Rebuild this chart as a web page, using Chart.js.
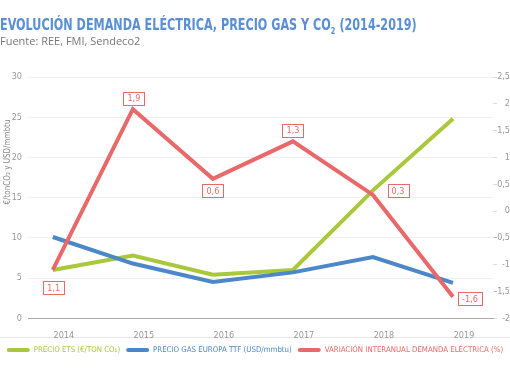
<!DOCTYPE html>
<html lang="es">
<head>
  <meta charset="UTF-8">
  <title>chart</title>
  <script src="https://cdn.jsdelivr.net/npm/chart.js"></script>
  <style>
    html,body{margin:0;padding:0;background:#fff;}
    .wrap{position:relative;width:510px;height:382px;overflow:hidden;}
    .title{position:absolute;left:0;top:16px;font:bold 15px "Liberation Sans Narrow","DejaVu Sans Condensed",sans-serif;color:#5b8fd3;white-space:nowrap;transform:scaleX(0.83);transform-origin:0 0;}
    .title sub{font-size:9px;}
    .sub{position:absolute;left:0;top:33px;font:11px "Open Sans",sans-serif;color:#777;white-space:nowrap;}
    .sep{position:absolute;left:0;top:337px;width:510px;height:1px;background:#e6e6e6;}
    canvas{position:absolute;left:0;top:0;}
  </style>
</head>
<body>
  <div class="wrap">
    <div class="sep"></div>
    <canvas id="myChart" width="510" height="382"></canvas>
    <div class="title">EVOLUCIÓN DEMANDA ELÉCTRICA, PRECIO GAS Y CO<sub>2</sub> (2014-2019)</div>
    <div class="sub">Fuente: REE, FMI, Sendeco2</div>
  </div>
  <script>
    // data
    const years = [2014, 2015, 2016, 2017, 2018, 2019];
    const precioEts = [6.0, 7.8, 5.4, 6.0, 15.9, 24.8];
    const precioGas = [10.1, 6.8, 4.5, 5.7, 7.6, 4.4];
    const demanda = [-1.1, 1.9, 0.6, 1.3, 0.3, -1.6];
    const demandaLabels = ['1,1', '1,9', '0,6', '1,3', '0,3', '-1,6'];
    const leftTicks = [0, 5, 10, 15, 20, 25, 30];
    const rightTicks = [-2, -1.5, -1, -0.5, 0, 0.5, 1, 1.5, 2, 2.5];

    const green = '#a9c83c', blue = '#4b87c9', red = '#e9686a';
    const font = '"DejaVu Sans Condensed","Liberation Sans Narrow",sans-serif';
    const pts = arr => arr.map((v, i) => ({x: years[i], y: v}));

    //boxed labels on the red line
    const boxLabels = {
      id: 'boxLabels',
      afterDatasetsDraw(chart, args, options){
        const {ctx} = chart;
        const meta = chart.getDatasetMeta(2);
        ctx.save();
        ctx.font = '9px ' + font;
        ctx.textAlign = 'center';
        ctx.textBaseline = 'middle';
        meta.data.forEach((p, i) => {
          const t = demandaLabels[i];
          const [dx, dy] = options.offsets[i];
          const w = ctx.measureText(t).width + 8, h = 13;
          const cx = p.x + dx, cy = p.y + dy;
          ctx.fillStyle = '#fff';
          ctx.fillRect(cx - w / 2, cy - h / 2, w, h);
          ctx.strokeStyle = red;
          ctx.lineWidth = 1;
          ctx.strokeRect(Math.round(cx - w / 2) + 0.5, Math.round(cy - h / 2) + 0.5, Math.round(w), h);
          ctx.fillStyle = red;
          ctx.fillText(t, cx, cy + 0.5);
        });
        ctx.restore();
      }
    };

    //rotated y title
    const yTitle = {
      id: 'yTitle',
      afterDraw(chart){
        const {ctx} = chart;
        ctx.save();
        ctx.translate(8, 162);
        ctx.rotate(-Math.PI / 2);
        ctx.fillStyle = '#888';
        ctx.textAlign = 'center';
        ctx.textBaseline = 'middle';
        ctx.font = '8px ' + font;
        ctx.fillText('€/tonCO₂ y USD/mmbtu', 0, 0);
        ctx.restore();
      }
    };

    const config = {
      type: 'line',
      data: {
        datasets: [
          {label: 'PRECIO ETS (€/TON CO₂)', data: pts(precioEts), borderColor: green, yAxisID: 'y', order: 2},
          {label: 'PRECIO GAS EUROPA TTF (USD/mmbtu)', data: pts(precioGas), borderColor: blue, yAxisID: 'y', order: 1},
          {label: 'VARIACIÓN INTERANUAL DEMANDA ELÉCTRICA (%)', data: pts(demanda), borderColor: red, yAxisID: 'y2', order: 0}
        ]
      },
      options: {
        responsive: false,
        animation: false,
        elements: {
          line: {borderWidth: 4, tension: 0},
          point: {radius: 0}
        },
        layout: {padding: {top: 77, bottom: 18, left: 0, right: 0}},
        scales: {
          x: {
            type: 'linear', min: 2013.69, max: 2019.5,
            afterBuildTicks: axis => { axis.ticks = years.map(v => ({value: v})); },
            afterFit: axis => { axis.height = 22; },
            grid: {display: false},
            border: {display: true, color: '#aaa'},
            ticks: {color: '#999', font: {family: font, size: 9}, labelOffset: 11, padding: 4, callback: v => String(v)}
          },
          y: {
            position: 'left', min: 0, max: 30,
            afterBuildTicks: axis => { axis.ticks = leftTicks.map(v => ({value: v})); },
            afterFit: axis => { axis.width = 28; },
            grid: {color: '#f0f0f0', drawTicks: false},
            border: {display: false},
            ticks: {color: '#999', font: {family: font, size: 9}, padding: 6}
          },
          y2: {
            position: 'right', min: -2, max: 2.5,
            afterBuildTicks: axis => { axis.ticks = rightTicks.map(v => ({value: v})); },
            afterFit: axis => { axis.width = 17; },
            grid: {drawOnChartArea: false, tickLength: 4, color: '#ddd'},
            border: {display: false},
            ticks: {color: '#999', font: {family: font, size: 9}, padding: 2, crossAlign: 'far',
              callback: v => String(v).replace('.', ',')}
          }
        },
        plugins: {
          tooltip: {enabled: false},
          legend: {
            position: 'bottom',
            labels: {
              boxWidth: 23, boxHeight: 4, padding: 6, useBorderRadius: true, borderRadius: 2,
              font: {family: font, size: 7.8},
              generateLabels: chart => chart.data.datasets.map((ds, i) => ({
                text: ds.label, fillStyle: ds.borderColor, strokeStyle: ds.borderColor,
                lineWidth: 0, fontColor: ds.borderColor, borderRadius: 2, datasetIndex: i, hidden: false
              }))
            }
          },
          boxLabels: {offsets: [[1, 18], [1, -11], [0, 12], [0, -11], [25, -4], [17, 2]]}
        }
      },
      plugins: [boxLabels, yTitle]
    };

    const myChart = new Chart(document.getElementById('myChart'), config);
  </script>
</body>
</html>
